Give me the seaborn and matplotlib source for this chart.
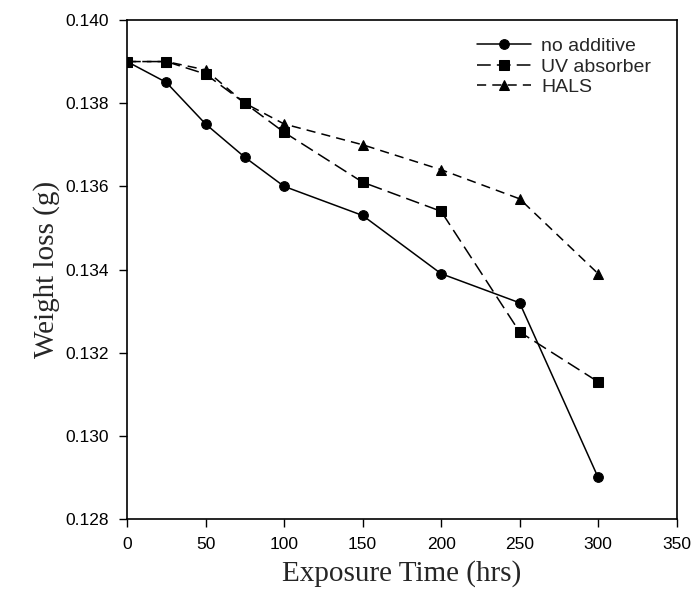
import matplotlib
matplotlib.use("Agg")
import matplotlib.pyplot as plt
import seaborn as sns
import pandas as pd

hours = [0, 25, 50, 75, 100, 150, 200, 250, 300]
no_additive = [0.1390, 0.1385, 0.1375, 0.1367, 0.1360, 0.1353, 0.1339, 0.1332, 0.1290]
uv_absorber = [0.1390, 0.1390, 0.1387, 0.1380, 0.1373, 0.1361, 0.1354, 0.1325, 0.1313]
hals = [0.1390, 0.1390, 0.1388, 0.1380, 0.1375, 0.1370, 0.1364, 0.1357, 0.1339]
series_names = ["no additive", "UV absorber", "HALS"]

sns.set_style("ticks")
fig = plt.figure(figsize=(6.94, 6.05), dpi=100)
ax = fig.add_axes([0.183, 0.142, 0.792, 0.825])

styles = [("o", (None, None)), ("s", (9, 4)), ("^", (6, 4))]
for name, vals, (mk, dash) in zip(series_names, [no_additive, uv_absorber, hals], styles):
    df = pd.DataFrame({"x": hours, "y": vals})
    sns.lineplot(data=df, x="x", y="y", ax=ax, color="black", marker=mk,
                 markersize=7, linewidth=1.1, label=name,
                 markeredgecolor="black")
    l = ax.lines[-1]
    if dash[0] is not None:
        l.set_dashes(dash)

ax.set_xlim(0, 350)
ax.set_ylim(0.128, 0.140)
ax.set_xticks(range(0, 351, 50))
ax.set_yticks([0.128, 0.130, 0.132, 0.134, 0.136, 0.138, 0.140])
ax.set_yticklabels([f"{v:.3f}" for v in ax.get_yticks()])
for lab in ax.get_xticklabels() + ax.get_yticklabels():
    lab.set_fontfamily("Liberation Sans")
    lab.set_fontsize(12.5)
ax.tick_params(direction="out", length=6, width=1, colors="black", pad=7)
for s in ax.spines.values():
    s.set_linewidth(1.2)
    s.set_color("black")

ax.set_xlabel("Exposure Time (hrs)", fontfamily="Liberation Serif", fontsize=21, labelpad=6)
ax.set_ylabel("Weight loss (g)", fontfamily="Liberation Serif", fontsize=21, labelpad=4)

leg = ax.legend(loc="upper right", frameon=False, prop={"family": "Liberation Sans", "size": 14},
                handlelength=2.8, bbox_to_anchor=(0.985, 1.0), labelspacing=0.15,
                handletextpad=0.5)

fig.savefig("out.png", dpi=100)
